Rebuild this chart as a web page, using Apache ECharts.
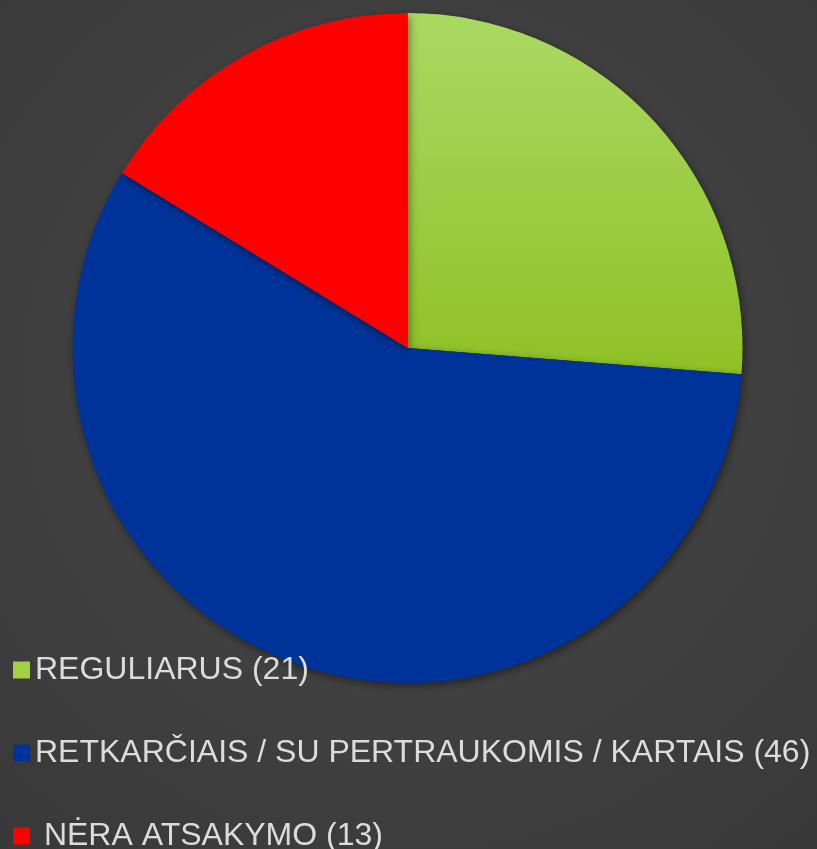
<!DOCTYPE html>
<html>
<head>
<meta charset="utf-8">
<script src="https://cdn.jsdelivr.net/npm/echarts@6/dist/echarts.min.js"></script>
<style>
html,body{margin:0;padding:0;background:#3e3e3e;}
#chart{width:817px;height:849px;}
</style>
</head>
<body>
<div id="chart"></div>
<script>
var categories = ['REGULIARUS', 'RETKARČIAIS / SU PERTRAUKOMIS / KARTAIS', 'NĖRA ATSAKYMO'];
var values = [21, 46, 13];
var labelPrefixes = ['', '', ' '];

var chart = echarts.init(document.getElementById('chart'));
var colors = [
  {type:'linear', x:0, y:0, x2:0, y2:1, colorStops:[{offset:0,color:'#aad963'},{offset:1,color:'#8fc126'}]},
  '#003399',
  '#ff0000'
];
var legendColors = ['#9fd140', '#003399', '#ff0000'];
var legendTops = [654, 737, 820];
var data = categories.map(function(c, i){
  return {name:c, value:values[i], itemStyle:{color:colors[i]}};
});
var legends = categories.map(function(c, i){
  return {
    orient:'vertical',
    left:13,
    top:legendTops[i],
    padding:0,
    itemWidth:17,
    itemHeight:17,
    icon:'rect',
    data:[{name:c, itemStyle:{color:legendColors[i]}}],
    formatter:function(name){
      var k = categories.indexOf(name);
      return labelPrefixes[k] + name + ' (' + values[k] + ')';
    },
    textStyle:{color:'#dcdcdc', fontSize:32, fontFamily:'Liberation Sans, Arial, sans-serif', lineHeight:30},
    selectedMode:false
  };
});
chart.setOption({
  backgroundColor: {type:'radial', x:0.5, y:0.45, r:0.75, colorStops:[{offset:0,color:'#484848'},{offset:1,color:'#393939'}]},
  animation:false,
  legend:legends,
  series:[{
    type:'pie',
    center:[407.5, 348],
    radius:[0, 335],
    startAngle:90,
    clockwise:true,
    label:{show:false},
    labelLine:{show:false},
    emphasis:{disabled:true},
    itemStyle:{shadowBlur:8, shadowColor:'rgba(0,0,0,0.45)', shadowOffsetX:2, shadowOffsetY:3},
    data:data
  }]
});
</script>
</body>
</html>
